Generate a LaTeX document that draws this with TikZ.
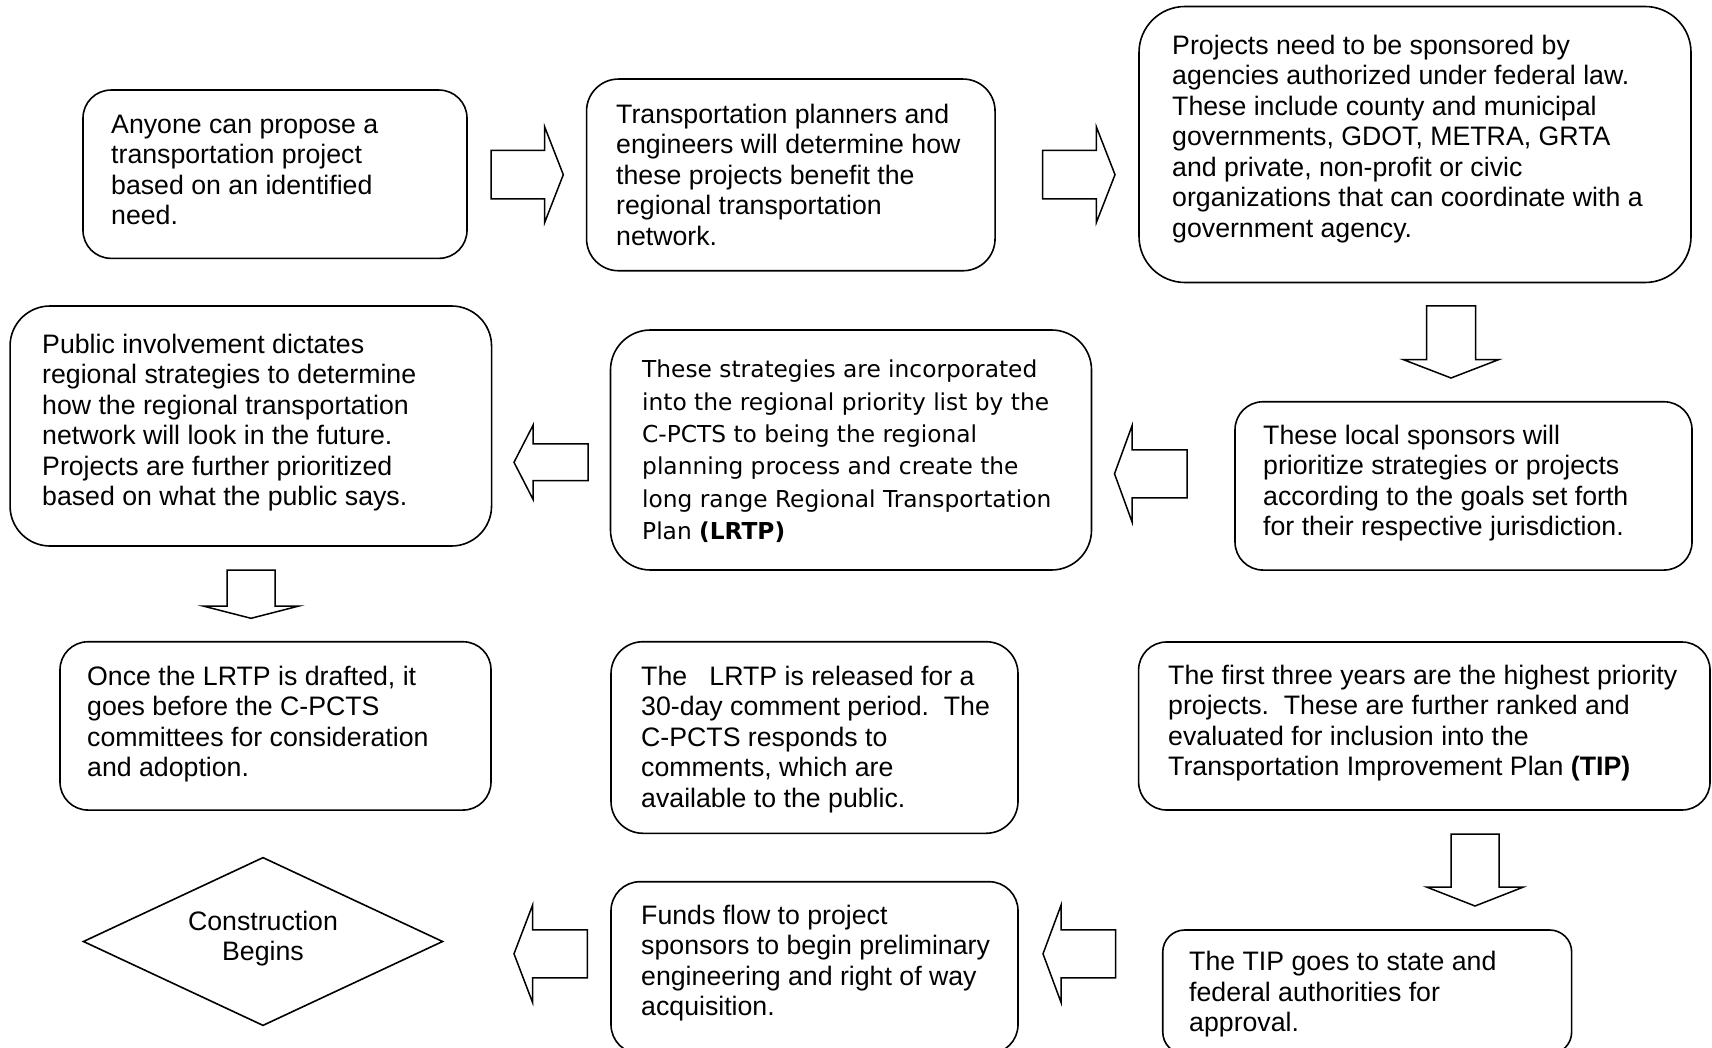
\documentclass[tikz,border=0pt]{standalone}
\usepackage{fontspec}
\setmainfont{Liberation Sans}
\newfontfamily\dvsans{DejaVu Sans}
\usetikzlibrary{shapes.geometric}
\frenchspacing
\tikzset{
 box/.style={draw, line width=1.6pt, inner sep=0pt, fill=white},
 txt/.style={anchor=north west, inner sep=0pt, align=left, font=\fontsize{26.7}{30.5}\selectfont},
 txtb/.style={anchor=north west, inner sep=0pt, align=left, font=\dvsans\fontsize{23.3}{32.3}\selectfont},
 blockarrow/.style={draw, line width=1.5pt, line join=miter, fill=white},
}
\newcommand\blk[6]{\draw[blockarrow, shift={(#1)}, rotate=#2] (0,0) -- (-#4,#6) -- (-#4,#5) -- (-#3,#5) -- (-#3,-#5) -- (-#4,-#5) -- (-#4,-#6) -- cycle;}
\newcommand\firststrut{\rule{0pt}{22pt}}
\begin{document}
\begin{tikzpicture}[x=1pt,y=-1pt]
\useasboundingbox[fill=white] (0,0) rectangle (1712,1048);

% boxes
\node[box, minimum width=384pt, minimum height=168.3pt, rounded corners=28pt] (b1) at (275,174.2) {};
\node[box, minimum width=408.5pt, minimum height=191.7pt, rounded corners=32pt] (b2) at (790.8,174.9) {};
\node[box, minimum width=552pt, minimum height=276pt, rounded corners=46pt] (b3) at (1415,144.5) {};
\node[box, minimum width=457pt, minimum height=168.3pt, rounded corners=28pt] (b4) at (1463.5,485.9) {};
\node[box, minimum width=481pt, minimum height=240pt, rounded corners=40pt] (b5) at (851,450) {};
\node[box, minimum width=481.5pt, minimum height=240pt, rounded corners=40pt] (b6) at (250.8,426) {};
\node[box, minimum width=431pt, minimum height=168.3pt, rounded corners=28pt] (b7) at (275.5,725.9) {};
\node[box, minimum width=407pt, minimum height=191.6pt, rounded corners=32pt] (b8) at (814.5,737.5) {};
\node[box, minimum width=571.4pt, minimum height=168pt, rounded corners=28pt] (b9) at (1424.3,726) {};
\node[box, minimum width=408.9pt, minimum height=124pt, rounded corners=22pt] (b10) at (1367.2,992) {};
\node[box, minimum width=407pt, minimum height=172pt, rounded corners=29pt] (b11) at (814.5,967.7) {};
\node[box, shape=diamond, minimum width=359.7pt, minimum height=168.4pt] (d) at (263,941.5) {};

% texts
\node[txt] (t1) at (111,111) {\firststrut Anyone can propose a\\transportation project\\based on an identified\\need.};
\node[txt] (t2) at (616,101) {\firststrut Transportation planners and\\engineers will determine how\\these projects benefit the\\regional transportation\\network.};
\node[txt] (t3) at (1172,32) {\firststrut Projects need to be sponsored by\\agencies authorized under federal law.\\These include county and municipal\\governments, GDOT, METRA, GRTA\\and private, non-profit or civic\\organizations that can coordinate with a\\government agency.};
\node[txt] (t4) at (1263,422) {\firststrut These local sponsors will\\prioritize strategies or projects\\according to the goals set forth\\for their respective jurisdiction.};
\node[txtb] (t5) at (642,355.7) {\firststrut These strategies are incorporated\\into the regional priority list by the\\C-PCTS to being the regional\\planning process and create the\\long range Regional Transportation\\Plan \textbf{(LRTP)}};
\node[txt] (t6) at (42,331) {\firststrut Public involvement dictates\\regional strategies to determine\\how the regional transportation\\network will look in the future.\\Projects are further prioritized\\based on what the public says.};
\node[txt] (t7) at (87,663) {\firststrut Once the LRTP is drafted, it\\goes before the C-PCTS\\committees for consideration\\and adoption.};
\node[txt] (t8) at (641,663) {\firststrut The\ \ \ LRTP is released for a\\30-day comment period.\ \ The\\C-PCTS responds to\\comments, which are\\available to the public.};
\node[txt] (t9) at (1168,662) {\firststrut The first three years are the highest priority\\projects.\ \ These are further ranked and\\evaluated for inclusion into the\\Transportation Improvement Plan \textbf{(TIP)}};
\node[txt] (t10) at (1189,948.7) {\firststrut The TIP goes to state and\\federal authorities for\\approval.};
\node[txt] (t11) at (641,902) {\firststrut Funds flow to project\\sponsors to begin preliminary\\engineering and right of way\\acquisition.};
\node[txt, anchor=north, align=center] (td) at (263,908) {\firststrut Construction\\Begins};

% block arrows (tips)
\coordinate (a1) at (563.3,174.7);
\coordinate (a2) at (1115,174.7);
\coordinate (a3) at (1451,378);
\coordinate (a4) at (1114.5,473.8);
\coordinate (a5) at (514,462.3);
\coordinate (a6) at (251,618.3);
\coordinate (a7) at (1475,906);
\coordinate (a8) at (1043,953.8);
\coordinate (a9) at (514,953.8);
\blk{a1}{0}{72.3}{18.7}{24.2}{48}
\blk{a2}{0}{72.3}{18.7}{24.2}{48}
\blk{a3}{-90}{72}{18.5}{24.5}{48}
\blk{a4}{180}{72.5}{17.5}{24}{48}
\blk{a5}{180}{74}{19}{18.4}{37}
\blk{a6}{-90}{48.3}{12.3}{24}{48}
\blk{a7}{-90}{72}{19}{24}{48.5}
\blk{a8}{180}{72.7}{18}{24}{48.5}
\blk{a9}{180}{73.3}{18.5}{24}{48.5}
\end{tikzpicture}
\end{document}
